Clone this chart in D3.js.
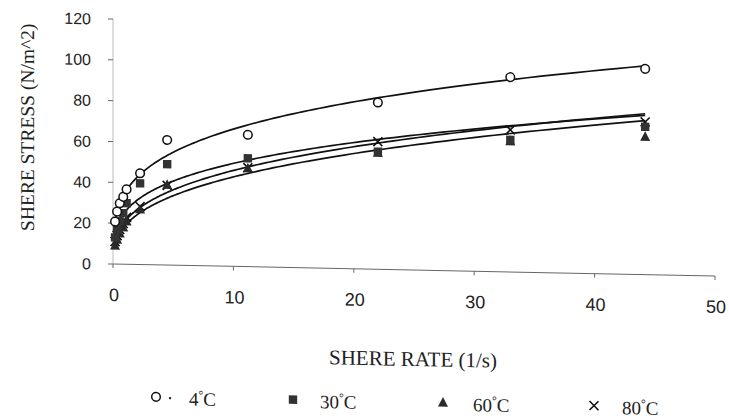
<!DOCTYPE html>
<html><head><meta charset="utf-8">
<script src="https://cdn.jsdelivr.net/npm/d3@7"></script>
<style>body{margin:0;background:#fff}</style>
</head><body>
<svg id="c" width="729" height="420"></svg>
<script>
// ---- data ----
const shearRate = [0.17, 0.34, 0.56, 0.85, 1.13, 2.25, 4.5, 11.2, 22, 33, 44.2];
const stress4  = [20.8, 25.7, 29.8, 33.0, 36.7, 44.7, 61.3, 64.6, 81.7, 95.4, 100.8];
const stress30 = [13.0, 17.0, 21.0, 25.0, 29.9, 39.8, 49.4, 53.1, 57.6, 64.7, 72.4];
const stress60 = [9.0, 12.0, 15.0, 18.0, 21.0, 27.0, 39.3, 48.2, 57.0, 64.0, 67.5];
const stress80 = [11.0, 14.0, 17.0, 20.0, 23.0, 28.4, 39.0, 48.5, 62.5, 69.6, 74.8];
const seriesNames = ["4°C", "30°C", "60°C", "80°C"];
const xTicks = [0, 10, 20, 30, 40, 50];
const yTicks = [0, 20, 40, 60, 80, 100, 120];

const series = [
  {name: seriesNames[0], values: stress4,  sym: "circle"},
  {name: seriesNames[1], values: stress30, sym: "square"},
  {name: seriesNames[2], values: stress60, sym: "triangle"},
  {name: seriesNames[3], values: stress80, sym: "cross"}
];

const svg = d3.select("#c");
const g = svg.append("g").attr("transform", "translate(113,0) skewY(1.146) translate(-113,0)");

const x = d3.scaleLinear().domain([0, 50]).range([113, 715]);
const y = d3.scaleLinear().domain([0, 120]).range([264, 19]);

// x axis
g.append("line").attr("x1", x(0)).attr("x2", x(50)).attr("y1", y(0)).attr("y2", y(0))
  .attr("stroke", "#666").attr("stroke-width", 1);
g.selectAll(".xt").data(xTicks).enter().append("line")
  .attr("x1", d => x(d)).attr("x2", d => x(d)).attr("y1", y(0)).attr("y2", y(0) + 4)
  .attr("stroke", "#666").attr("stroke-width", 1);
g.selectAll(".xl").data(xTicks).enter().append("text")
  .attr("x", d => x(d) + 1).attr("y", 301)
  .attr("text-anchor", "middle").attr("font-family", "Liberation Sans, Arial, sans-serif")
  .attr("font-size", 18).attr("fill", "#222").text(d => d);

// y axis
g.append("line").attr("x1", x(0)).attr("x2", x(0)).attr("y1", y(0)).attr("y2", y(120))
  .attr("stroke", "#aaa").attr("stroke-width", 0.8);
g.selectAll(".yt").data(yTicks).enter().append("line")
  .attr("x1", x(0) - 5).attr("x2", x(0)).attr("y1", d => y(d)).attr("y2", d => y(d))
  .attr("stroke", "#666").attr("stroke-width", 1);
g.selectAll(".yl").data(yTicks).enter().append("text")
  .attr("x", 91).attr("y", d => y(d)).attr("dy", "0.36em")
  .attr("text-anchor", "end").attr("font-family", "Liberation Sans, Arial, sans-serif")
  .attr("font-size", 16).attr("fill", "#222").text(d => d);

// titles
g.append("text").attr("x", 413).attr("y", 360).attr("text-anchor", "middle")
  .attr("font-family", "Liberation Serif, Times New Roman, serif").attr("font-size", 21)
  .attr("fill", "#222").text("SHERE RATE (1/s)");
g.append("text").attr("transform", "translate(34,129) rotate(-90)").attr("text-anchor", "middle")
  .attr("font-family", "Liberation Serif, Times New Roman, serif").attr("font-size", 19.5)
  .attr("fill", "#222").text("SHERE STRESS (N/m^2)");

// power-law trend lines (least squares in log-log space, like a spreadsheet "power" trendline)
function powerFit(xs, ys) {
  const lx = xs.map(Math.log), ly = ys.map(Math.log);
  const n = lx.length, mx = d3.mean(lx), my = d3.mean(ly);
  let sxy = 0, sxx = 0;
  for (let i = 0; i < n; i++) { sxy += (lx[i] - mx) * (ly[i] - my); sxx += (lx[i] - mx) ** 2; }
  const b = sxy / sxx, a = Math.exp(my - b * mx);
  return v => a * Math.pow(v, b);
}
const line = d3.line().x(d => x(d[0])).y(d => y(d[1])).curve(d3.curveLinear);
const xmin = d3.min(shearRate), xmax = d3.max(shearRate);
const samples = d3.range(0, 201).map(i => xmin * Math.pow(xmax / xmin, i / 200));
series.forEach(s => {
  const f = powerFit(shearRate, s.values);
  g.append("path").datum(samples.map(v => [v, f(v)])).attr("d", line)
    .attr("fill", "none").attr("stroke", "#111").attr("stroke-width", 1.7);
});

// markers
function drawSym(sel, sym, cx, cy) {
  if (sym === "circle") {
    sel.append("circle").attr("cx", cx).attr("cy", cy).attr("r", 4.3)
      .attr("fill", "#fff").attr("stroke", "#111").attr("stroke-width", 1.5);
  } else if (sym === "square") {
    sel.append("rect").attr("x", cx - 4.2).attr("y", cy - 4.2).attr("width", 8.4).attr("height", 8.4)
      .attr("fill", "#333");
  } else if (sym === "triangle") {
    sel.append("path").attr("d", `M${cx},${cy - 5.5}L${cx + 5},${cy + 4}L${cx - 5},${cy + 4}Z`)
      .attr("fill", "#2a2a2a");
  } else {
    sel.append("path").attr("d", `M${cx - 4.5},${cy - 4.5}L${cx + 4.5},${cy + 4.5}M${cx + 4.5},${cy - 4.5}L${cx - 4.5},${cy + 4.5}`)
      .attr("stroke", "#111").attr("stroke-width", 1.6).attr("fill", "none");
  }
}
[3, 2, 1, 0].forEach(k => {
  const s = series[k];
  const mg = g.append("g");
  shearRate.forEach((v, i) => drawSym(mg, s.sym, x(v), y(s.values[i])));
});

// legend
const legX = [156, 293, 443, 594];
const legTx = [189, 320, 473, 622];
series.forEach((s, k) => {
  const lg = g.append("g");
  drawSym(lg, s.sym, legX[k], 396);
  if (k === 0) lg.append("circle").attr("cx", 170).attr("cy", 397).attr("r", 1.2).attr("fill", "#222");
  const t = lg.append("text").attr("x", legTx[k]).attr("y", 404)
    .attr("font-family", "Liberation Serif, Times New Roman, serif").attr("font-size", 19).attr("fill", "#222");
  const parts = s.name.split("°");
  t.append("tspan").text(parts[0]);
  t.append("tspan").attr("font-size", 12).attr("dy", -7).text("°");
  t.append("tspan").attr("dy", 7).text(parts[1]);
});
</script>
</body></html>
